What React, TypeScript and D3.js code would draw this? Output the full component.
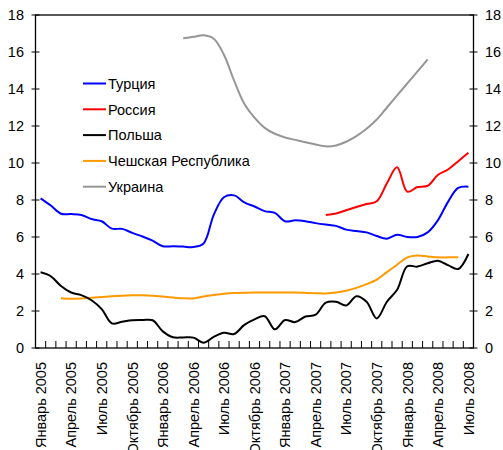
import React from "react";
import * as d3 from "d3";

const months: string[] = [
  "Январь 2005","Февраль 2005","Март 2005","Апрель 2005","Май 2005","Июнь 2005","Июль 2005","Август 2005","Сентябрь 2005","Октябрь 2005","Ноябрь 2005","Декабрь 2005",
  "Январь 2006","Февраль 2006","Март 2006","Апрель 2006","Май 2006","Июнь 2006","Июль 2006","Август 2006","Сентябрь 2006","Октябрь 2006","Ноябрь 2006","Декабрь 2006",
  "Январь 2007","Февраль 2007","Март 2007","Апрель 2007","Май 2007","Июнь 2007","Июль 2007","Август 2007","Сентябрь 2007","Октябрь 2007","Ноябрь 2007","Декабрь 2007",
  "Январь 2008","Февраль 2008","Март 2008","Апрель 2008","Май 2008","Июнь 2008","Июль 2008"
];

const yTicks: number[] = [0, 2, 4, 6, 8, 10, 12, 14, 16, 18];

const turkey: (number | null)[] = [
  8.09, 7.7, 7.26, 7.24, 7.19, 6.97, 6.85, 6.45, 6.44, 6.22, 6.03, 5.8,
  5.5, 5.5, 5.48, 5.46, 5.65, 7.2, 8.15, 8.25, 7.87, 7.65, 7.4, 7.3,
  6.85, 6.9, 6.85, 6.75, 6.67, 6.6, 6.4, 6.32, 6.25, 6.05, 5.91, 6.12,
  6.0, 6.0, 6.25, 6.9, 7.9, 8.65, 8.72
];

const russia: (number | null)[] = [
  null, null, null, null, null, null, null, null, null, null, null, null,
  null, null, null, null, null, null, null, null, null, null, null, null,
  null, null, null, null, 7.19, 7.27, 7.45, 7.62, 7.78, 7.93, 8.9, 9.77,
  8.45, 8.7, 8.77, 9.35, 9.65, 10.1, 10.55
];

const poland: (number | null)[] = [
  4.09, 3.88, 3.35, 3.0, 2.86, 2.58, 2.1, 1.33, 1.42, 1.5, 1.51, 1.5,
  0.9, 0.58, 0.57, 0.56, 0.29, 0.6, 0.82, 0.76, 1.25, 1.55, 1.72, 1.01,
  1.51, 1.4, 1.7, 1.8, 2.45, 2.5, 2.3, 2.8, 2.5, 1.6, 2.5, 3.15,
  4.42, 4.4, 4.58, 4.72, 4.48, 4.27, 5.08
];

const czech: (number | null)[] = [
  null, null, 2.69, 2.66, 2.68, 2.72, 2.76, 2.8, 2.83, 2.85, 2.85, 2.83,
  2.78, 2.73, 2.69, 2.68, 2.78, 2.86, 2.93, 2.97, 2.99, 3.0, 3.0, 3.0,
  3.0, 3.0, 2.98, 2.96, 2.95, 3.0, 3.1, 3.25, 3.45, 3.7, 4.1, 4.5,
  4.9, 5.0, 4.95, 4.9, 4.9, 4.9, null
];

const ukraine: (number | null)[] = [
  null, null, null, null, null, null, null, null, null, null, null, null,
  null, null, 16.74, 16.82, 16.9, 16.72, 15.85, 14.45, 13.2, 12.45, 11.9, 11.58,
  11.38, 11.25, 11.12, 11.0, 10.9, 10.95, 11.15, 11.45, 11.85, 12.35, 13.0, 13.65,
  14.3, 14.95, 15.6, null, null, null, null
];

const seriesNames: string[] = ["Турция", "Россия", "Польша", "Чешская Республика", "Украина"];
const seriesColors: string[] = ["#0000ff", "#ff0000", "#000000", "#ff9900", "#969696"];
const seriesData = [turkey, russia, poland, czech, ukraine];
const drawOrder = [4, 3, 2, 0, 1];

const W = 503, H = 450;
const L = 35.5, R = 473.5, T = 15, B = 348;
const FONT = "'Liberation Sans', Arial, sans-serif";
const FS = 14.5;

export default function App() {
  const x = d3.scaleBand<number>().domain(months.map((_, i) => i)).range([L, R]).padding(0);
  const y = d3.scaleLinear().domain([0, 18]).range([B, T]);
  const cx = (i: number) => (x(i) as number) + x.bandwidth() / 2;

  const line = d3
    .line<number | null>()
    .defined((d) => d !== null)
    .x((_, i) => cx(i))
    .y((d) => y(d as number))
    .curve(d3.curveCatmullRom.alpha(0.5));

  const boundaries = d3.range(months.length + 1).map((i) => L + i * x.bandwidth());

  return (
    <svg
      width={W}
      height={H}
      style={{ position: "absolute", left: 0, top: 0, background: "#fff" }}
      fontFamily={FONT}
    >
      <rect x={0} y={0} width={W} height={H} fill="#fff" />
      <rect x={L} y={T} width={R - L} height={B - T} fill="none" stroke="#000" strokeWidth={1.3} />
      {yTicks.map((t) => (
        <g key={"yt" + t}>
          <line x1={L - 4} x2={L + 4} y1={y(t)} y2={y(t)} stroke="#000" strokeWidth={1} />
          <line x1={R - 4} x2={R + 4} y1={y(t)} y2={y(t)} stroke="#000" strokeWidth={1} />
          <text x={24} y={y(t)} dy="0.36em" textAnchor="end" fontSize={FS} fill="#000">
            {t}
          </text>
          <text x={485} y={y(t)} dy="0.36em" textAnchor="start" fontSize={FS} fill="#000">
            {t}
          </text>
        </g>
      ))}
      {boundaries.map((bx, i) => (
        <line key={"xt" + i} x1={bx} x2={bx} y1={B} y2={B - 7} stroke="#000" strokeWidth={1} />
      ))}
      {months.map((m, i) =>
        i % 3 === 0 ? (
          <text
            key={"xl" + i}
            transform={`translate(${cx(i)},${362}) rotate(-90)`}
            dy="0.36em"
            textAnchor="end"
            fontSize={FS}
            fill="#000"
          >
            {m}
          </text>
        ) : null
      )}
      {drawOrder.map((k) => (
        <path
          key={"s" + k}
          d={line(seriesData[k]) || ""}
          fill="none"
          stroke={seriesColors[k]}
          strokeWidth={2}
          strokeLinejoin="round"
        />
      ))}
      {seriesNames.map((n, k) => {
        const ly = 83.5 + k * 25.8;
        return (
          <g key={"lg" + k}>
            <line x1={83} x2={106} y1={ly} y2={ly} stroke={seriesColors[k]} strokeWidth={2} />
            <text x={108} y={ly} dy="0.36em" fontSize={FS} fill="#000">
              {n}
            </text>
          </g>
        );
      })}
    </svg>
  );
}
